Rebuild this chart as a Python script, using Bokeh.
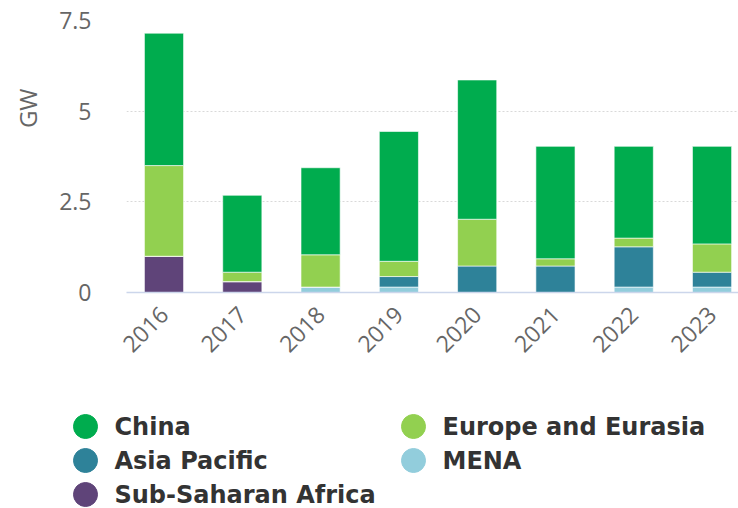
import math
from bokeh.plotting import figure
from bokeh.models import ColumnDataSource, Range1d, FixedTicker, Title
from bokeh.layouts import column
from bokeh.core.properties import value
from bokeh.embed import file_html
from bokeh.resources import INLINE

years = ["2016", "2017", "2018", "2019", "2020", "2021", "2022", "2023"]
sub_saharan_africa = [1.0, 0.3, 0.0, 0.0, 0.0, 0.0, 0.0, 0.0]
mena = [0.0, 0.0, 0.15, 0.15, 0.0, 0.0, 0.15, 0.15]
asia_pacific = [0.0, 0.0, 0.0, 0.29, 0.73, 0.73, 1.11, 0.41]
europe_eurasia = [2.5, 0.26, 0.89, 0.42, 1.29, 0.2, 0.24, 0.78]
china = [3.65, 2.12, 2.4, 3.58, 3.84, 3.1, 2.53, 2.69]

series_names = ["Sub-Saharan Africa", "MENA", "Asia Pacific", "Europe and Eurasia", "China"]
series_colors = ["#5f4479", "#92cddc", "#2e8299", "#92d050", "#00ac4e"]
legend_order = ["China", "Europe and Eurasia", "Asia Pacific", "MENA", "Sub-Saharan Africa"]

y_ticks = [0, 2.5, 5, 7.5]
y_tick_labels = ["0", "2.5", "5", "7.5"]

x_pos = list(range(len(years)))
source = ColumnDataSource(data={
    "x": x_pos,
    "Sub-Saharan Africa": sub_saharan_africa,
    "MENA": mena,
    "Asia Pacific": asia_pacific,
    "Europe and Eurasia": europe_eurasia,
    "China": china,
})

W = 738
H_CHART = 395
H_LEG = 113

p = figure(width=W, height=H_CHART, output_backend="svg", toolbar_location=None,
           x_range=Range1d(-0.479, 7.338), y_range=Range1d(0, 7.5),
           min_border_left=126, min_border_right=0, min_border_top=20,
           min_border_bottom=103)
p.outline_line_color = None
p.background_fill_color = "white"
p.border_fill_color = "white"

p.vbar_stack(series_names, x="x", width=0.5, color=series_colors,
             line_color="white", line_width=0.6, source=source)

# x axis
xa = p.xaxis[0]
xa.ticker = FixedTicker(ticks=x_pos)
xa.major_label_overrides = {i: y for i, y in enumerate(years)}
xa.major_label_orientation = math.pi / 4
xa.major_label_text_font = "Open Sans"
xa.major_label_text_font_size = "23px"
xa.major_label_text_color = "#666666"
xa.major_tick_line_color = None
xa.minor_tick_line_color = None
xa.major_tick_out = 0
xa.axis_line_color = "#ccd6eb"
xa.axis_line_width = 1.5
xa.major_label_standoff = 18

ya = p.yaxis[0]
ya.ticker = FixedTicker(ticks=y_ticks)
ya.major_label_overrides = {t: l for t, l in zip(y_ticks, y_tick_labels)}
ya.major_label_text_font = "Open Sans"
ya.major_label_text_font_size = "23px"
ya.major_label_text_color = "#666666"
ya.major_tick_line_color = None
ya.minor_tick_line_color = None
ya.axis_line_color = None
ya.major_tick_out = 0
ya.major_label_standoff = 35

p.add_layout(Title(text="GW", align="right", vertical_align="top", offset=68,
                   standoff=21, text_font="Open Sans", text_font_style="normal",
                   text_font_size="24px", text_color="#666666"), "left")

p.xgrid.grid_line_color = None
p.ygrid.grid_line_color = "#d9d9d9"
p.ygrid.grid_line_dash = "2 2"
p.ygrid.grid_line_width = 1

# legend panel (two columns, row-major like the original)
leg = figure(width=W, height=H_LEG, output_backend="svg", toolbar_location=None,
             x_range=Range1d(0, W), y_range=Range1d(H_LEG, 0),
             x_axis_location=None, y_axis_location=None,
             min_border=0, min_border_left=0, min_border_right=0,
             min_border_top=0, min_border_bottom=0)
if "frame_align" in leg.properties():
    leg.frame_align = False
    p.frame_align = False
leg.outline_line_color = None
leg.xgrid.visible = False
leg.ygrid.visible = False

col_x0, col_step = 85, 328
row_y0, row_step = 31, 34
color_of = dict(zip(series_names, series_colors))
lx, ly, lc, tx = [], [], [], []
for i, name in enumerate(legend_order):
    c, r = i % 2, i // 2
    lx.append(col_x0 + c * col_step)
    ly.append(row_y0 + r * row_step)
    lc.append(color_of[name])
    tx.append(col_x0 + c * col_step + 29)
lsrc = ColumnDataSource(data=dict(x=lx, y=ly, color=lc, tx=tx, label=legend_order))
leg.scatter(x="x", y="y", size=24, marker="circle", fill_color="color",
            line_color="color", source=lsrc)
leg.text(x="tx", y="y", text="label", source=lsrc, text_font=value("DejaVu Sans"),
         text_font_style="bold", text_font_size="24px", text_color="#333333",
         text_baseline="middle", text_align="left")

layout = column(p, leg, spacing=0)
open("out.html", "w").write(file_html(layout, INLINE))
